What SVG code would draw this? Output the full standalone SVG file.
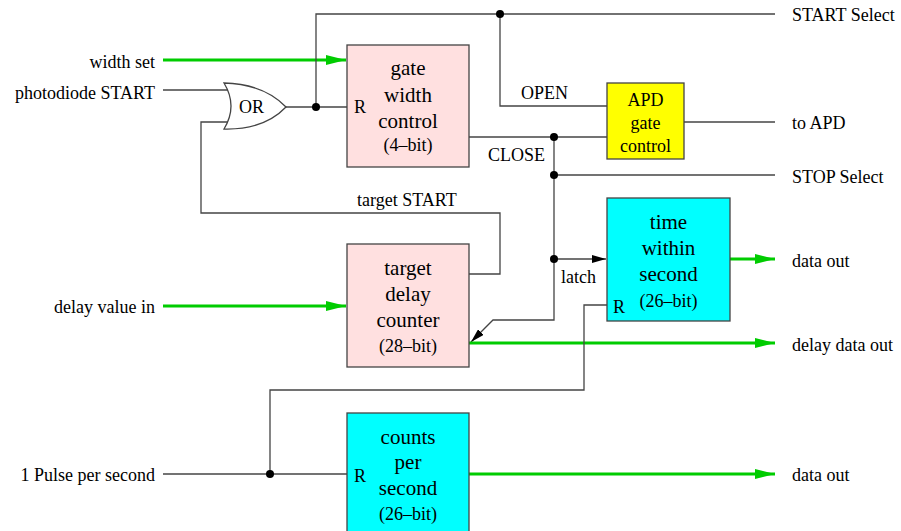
<svg xmlns="http://www.w3.org/2000/svg" width="901" height="531" viewBox="0 0 901 531">
<defs>
<style>
.w{fill:none;stroke:#444;stroke-width:1.3}
.g{fill:none;stroke:#00cc00;stroke-width:3}
.t{font-family:"Liberation Serif","Times New Roman",serif;font-size:18px;fill:#000}
.b{font-family:"Liberation Serif","Times New Roman",serif;font-size:21px;fill:#000;text-anchor:middle}
.s{font-family:"Liberation Serif","Times New Roman",serif;font-size:18px;fill:#000;text-anchor:middle}
.r{text-anchor:end}
.pink{fill:#ffe0e0;stroke:#444;stroke-width:1.3}
.cyan{fill:#00ffff;stroke:#444;stroke-width:1.3}
.yel{fill:#ffff00;stroke:#444;stroke-width:1.3}
</style>
<marker id="ga" viewBox="0 0 20 10" refX="20" refY="5" markerWidth="20" markerHeight="10" markerUnits="userSpaceOnUse" orient="auto"><path d="M0,0L20,5L0,10Z" fill="#00cc00"/></marker>
<marker id="ba" viewBox="0 0 14 8" refX="14" refY="4" markerWidth="14" markerHeight="8" markerUnits="userSpaceOnUse" orient="auto"><path d="M0,0L14,4L0,8Z" fill="#000"/></marker>
</defs>
<rect width="901" height="531" fill="#fff"/>
<g id="connectors">
<path class="g" d="M163,60H346" marker-end="url(#ga)"/>
<path class="w" d="M163,90H229"/>
<path class="w" d="M229,122H201V213H500V274H469"/>
<path class="w" d="M286,107H347"/>
<path class="w" d="M316,107V14H775"/>
<path class="w" d="M500,14V106H607"/>
<path class="w" d="M684,122H775"/>
<path class="w" d="M469,137H607"/>
<path class="w" d="M554,137V320H493L471,342" marker-end="url(#ba)"/>
<path class="w" d="M554,175H775"/>
<path class="w" d="M554,259H606" marker-end="url(#ba)"/>
<path class="g" d="M730,259H775" marker-end="url(#ga)"/>
<path class="g" d="M163,306H346" marker-end="url(#ga)"/>
<path class="g" d="M469,343H775" marker-end="url(#ga)"/>
<path class="w" d="M607,305H584V390H270V474"/>
<path class="w" d="M163,474H347"/>
<path class="g" d="M469,474H775" marker-end="url(#ga)"/>
<g fill="#000">
<circle cx="316" cy="107" r="4"/>
<circle cx="500" cy="14" r="4"/>
<circle cx="554" cy="137" r="4"/>
<circle cx="554" cy="175" r="4"/>
<circle cx="554" cy="259" r="4"/>
<circle cx="270" cy="474" r="4"/>
</g>
<text class="t" x="521" y="99">OPEN</text>
<text class="t" x="488" y="161">CLOSE</text>
<text class="t" x="357" y="206">target START</text>
<text class="t" x="561" y="283">latch</text>
</g>
<g id="labels">
<text class="t r" x="155" y="68">width set</text>
<text class="t r" x="155" y="99">photodiode START</text>
<text class="t r" x="155" y="313">delay value in</text>
<text class="t r" x="155" y="481">1 Pulse per second</text>
<text class="t" x="792" y="21">START Select</text>
<text class="t" x="792" y="129">to APD</text>
<text class="t" x="792" y="183">STOP Select</text>
<text class="t" x="792" y="267">data out</text>
<text class="t" x="792" y="351">delay data out</text>
<text class="t" x="792" y="481">data out</text>
</g>
<g id="or_gate">
<path d="M224,83Q264,84 286,107Q264,130 224,129Q238,106 224,83Z" fill="#fff" stroke="#444" stroke-width="1.3"/>
<text class="t" x="239" y="113">OR</text>
</g>
<g id="gate_width_control">
<rect class="pink" x="347" y="45" width="122" height="122"/>
<text class="b" x="408" y="75">gate</text>
<text class="b" x="408" y="102">width</text>
<text class="b" x="408" y="128">control</text>
<text class="s" x="408" y="151">(4–bit)</text>
<text class="t" x="354" y="113">R</text>
</g>
<g id="apd_gate_control">
<rect class="yel" x="607" y="83" width="77" height="76"/>
<text class="s" x="645.5" y="106">APD</text>
<text class="s" x="645.5" y="129">gate</text>
<text class="s" x="645.5" y="152">control</text>
</g>
<g id="target_delay_counter">
<rect class="pink" x="347" y="244" width="122" height="123"/>
<text class="b" x="408" y="275">target</text>
<text class="b" x="408" y="301">delay</text>
<text class="b" x="408" y="327">counter</text>
<text class="s" x="408" y="352">(28–bit)</text>
</g>
<g id="time_within_second">
<rect class="cyan" x="607" y="198" width="123" height="123"/>
<text class="b" x="668.5" y="229">time</text>
<text class="b" x="668.5" y="255">within</text>
<text class="b" x="668.5" y="281">second</text>
<text class="s" x="668.5" y="307">(26–bit)</text>
<text class="t" x="613" y="313">R</text>
</g>
<g id="counts_per_second">
<rect class="cyan" x="347" y="413" width="122" height="122"/>
<text class="b" x="408" y="444">counts</text>
<text class="b" x="408" y="469">per</text>
<text class="b" x="408" y="495">second</text>
<text class="s" x="408" y="520">(26–bit)</text>
<text class="t" x="354" y="482">R</text>
</g>
</svg>
